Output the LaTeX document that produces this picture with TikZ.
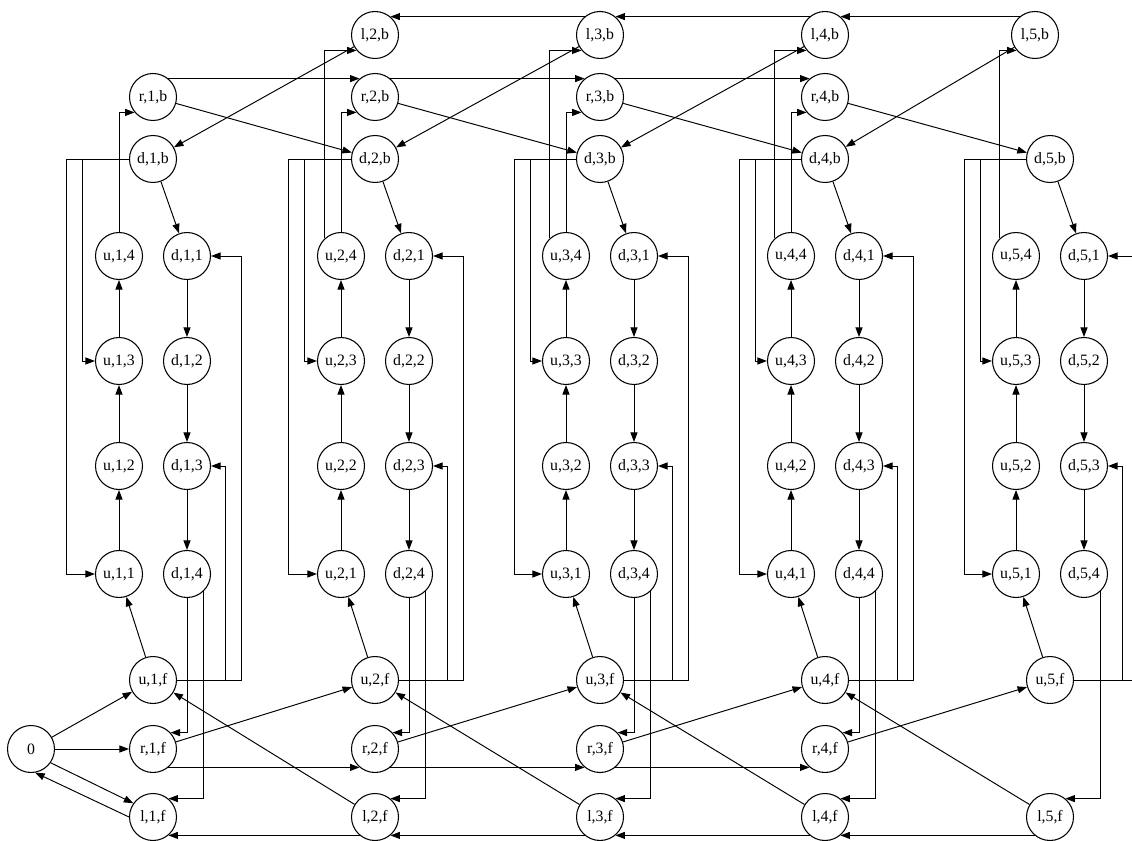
\documentclass[tikz,border=0pt]{standalone}
\usepackage{fontspec}
\setmainfont{Liberation Serif}
\usetikzlibrary{arrows.meta}

\begin{document}
\begin{tikzpicture}[
  x=0.02cm, y=-0.02cm,
  state/.style={draw, circle, line width=0.6pt, minimum size=0.94cm,
                inner sep=0pt, font=\fontsize{9}{10}\selectfont},
  arrow/.style={-{Triangle[length=0.19cm, width=0.14cm]}, line width=0.55pt},
]
  \useasboundingbox (0,0) rectangle (1132,841);

  % Start node
  \node[state] (zero) at (31,749) {0};

  % Columns of states
  \foreach \k/\c in {1/153,2/375,3/600,4/825,5/1050} {
    \node[state] (db\k) at (\c,159) {d,\k,b};
    \node[state] (uf\k) at (\c,680) {u,\k,f};
    \node[state] (lf\k) at (\c,817) {l,\k,f};
    \foreach \j/\y in {1/574,2/466,3/361,4/256}
      \node[state] (u\k-\j) at (\c-34,\y) {u,\k,\j};
    \foreach \j/\y in {1/256,2/361,3/466,4/574}
      \node[state] (d\k-\j) at (\c+34,\y) {d,\k,\j};
  }
  \foreach \k/\c in {1/153,2/375,3/600,4/825} {
    \node[state] (rb\k) at (\c,97) {r,\k,b};
    \node[state] (rf\k) at (\c,749) {r,\k,f};
  }
  \foreach \k/\c in {2/375,3/600,4/825,5/1035}
    \node[state] (lb\k) at (\c,35) {l,\k,b};

  % Edges inside a column
  \foreach \k in {1,...,5} {
    \draw[arrow] (u\k-1) -- (u\k-2);
    \draw[arrow] (u\k-2) -- (u\k-3);
    \draw[arrow] (u\k-3) -- (u\k-4);
    \draw[arrow] (d\k-1) -- (d\k-2);
    \draw[arrow] (d\k-2) -- (d\k-3);
    \draw[arrow] (d\k-3) -- (d\k-4);
    \draw[arrow] (db\k) -- (d\k-1);
    \draw[arrow] (uf\k) -- (u\k-1);
    \draw[arrow] (db\k.west) -- ++(-62,0) |- (u\k-1);
    \draw[arrow] (db\k.west) -- ++(-46,0) |- (u\k-3);
    \draw[arrow] (uf\k.east) -- ++(64,0) |- (d\k-1);
    \draw[arrow] (uf\k.east) -- ++(48,0) |- (d\k-3);
    \draw[arrow] (d\k-4.-46) |- (lf\k.50);
  }
  \foreach \k in {1,...,4} {
    \draw[arrow] (u\k-4) |- (rb\k.-140);
    \draw[arrow] (d\k-4) |- (rf\k.43);
  }
  \foreach \k in {2,...,5}
    \draw[arrow] (u\k-4.133) |- (lb\k.-140);

  % Edges between columns
  \foreach \a/\b in {1/2,2/3,3/4,4/5} {
    \draw[arrow] (rb\a) -- (db\b);
    \draw[arrow] (lb\b) -- (db\a);
    \draw[arrow] (rf\a) -- (uf\b);
    \draw[arrow] (lf\b) -- (uf\a);
    \draw[arrow] (lf\b.-130) -- (lf\a.-50);
  }
  \foreach \a/\b in {1/2,2/3,3/4} {
    \draw[arrow] (rb\a.50) -- (rb\b.130);
    \draw[arrow] (rf\a.-50) -- (rf\b.-130);
  }
  \foreach \a/\b in {2/3,3/4,4/5}
    \draw[arrow] (lb\b.130) -- (lb\a.50);

  % Edges of the start node
  \draw[arrow] (zero) -- (uf1);
  \draw[arrow] (zero) -- (rf1);
  \draw[arrow] (zero.-35) -- (lf1.145);
  \draw[arrow] (lf1.west) -- (zero.-80);
\end{tikzpicture}
\end{document}
